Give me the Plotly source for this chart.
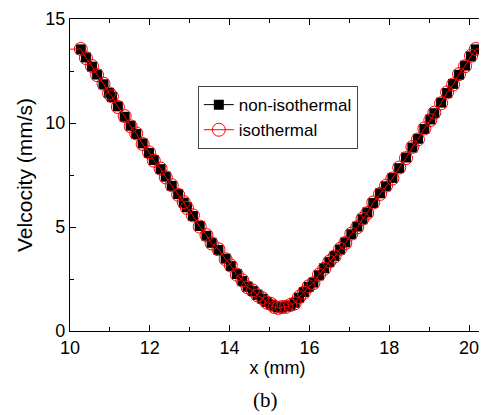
import plotly.graph_objects as go

# x positions (mm) of the sampled points
x_non = [10.27, 10.40, 10.55, 10.68, 10.84, 10.98, 11.05, 11.20, 11.37, 11.52,
         11.66, 11.82, 11.98, 12.10, 12.27, 12.40, 12.55, 12.71, 12.85, 12.93,
         13.08, 13.25, 13.42, 13.55, 13.72, 13.90, 14.03, 14.18, 14.32, 14.45,
         14.58, 14.70, 14.82, 14.93, 15.04, 15.13, 15.22, 15.31, 15.41, 15.52,
         15.63, 15.74, 15.86, 15.98, 16.10, 16.24, 16.37, 16.50, 16.63, 16.77,
         16.90, 17.05, 17.20, 17.33, 17.45, 17.60, 17.77, 17.92, 18.08, 18.25,
         18.42, 18.58, 18.72, 18.88, 19.03, 19.13, 19.30, 19.45, 19.60, 19.75,
         19.90, 20.05, 20.17]
v_non = [13.54, 13.15, 12.71, 12.33, 11.86, 11.45, 11.25, 10.80, 10.30, 9.87,
         9.47, 9.02, 8.56, 8.22, 7.78, 7.42, 6.98, 6.58, 6.17, 5.95,
         5.53, 5.05, 4.58, 4.24, 3.90, 3.48, 3.12, 2.74, 2.40, 2.13,
         1.92, 1.74, 1.55, 1.40, 1.27, 1.18, 1.13, 1.13, 1.18, 1.22,
         1.36, 1.60, 1.87, 2.12, 2.33, 2.68, 3.02, 3.31, 3.61, 3.92,
         4.26, 4.65, 5.02, 5.37, 5.70, 6.15, 6.62, 6.96, 7.36, 7.83,
         8.34, 8.82, 9.24, 9.71, 10.17, 10.47, 10.98, 11.44, 11.88, 12.32,
         12.76, 13.20, 13.54]

x_iso = [9.80, 10.27, 10.40, 10.55, 10.68, 10.84, 10.98, 11.05, 11.20, 11.37, 11.52,
         11.66, 11.82, 11.98, 12.10, 12.27, 12.40, 12.55, 12.71, 12.85, 12.93,
         13.08, 13.25, 13.42, 13.55, 13.72, 13.90, 14.03, 14.18, 14.32, 14.45,
         14.58, 14.70, 14.82, 14.93, 15.04, 15.13, 15.22, 15.31, 15.41, 15.52,
         15.63, 15.74, 15.86, 15.98, 16.10, 16.24, 16.37, 16.50, 16.63, 16.77,
         16.90, 17.05, 17.20, 17.33, 17.45, 17.60, 17.77, 17.92, 18.08, 18.25,
         18.42, 18.58, 18.72, 18.88, 19.03, 19.13, 19.30, 19.45, 19.60, 19.75,
         19.90, 20.05, 20.17, 20.60]
v_iso = [13.54, 13.56, 13.12, 12.74, 12.30, 11.89, 11.42, 11.28, 10.77, 10.33, 9.84,
         9.50, 8.99, 8.59, 8.19, 7.81, 7.39, 7.01, 6.55, 6.20, 5.92,
         5.56, 5.02, 4.61, 4.21, 3.93, 3.45, 3.15, 2.71, 2.43, 2.10,
         1.95, 1.71, 1.58, 1.37, 1.30, 1.15, 1.11, 1.15, 1.16, 1.25,
         1.33, 1.63, 1.84, 2.15, 2.30, 2.71, 2.99, 3.34, 3.58, 3.95,
         4.23, 4.68, 4.99, 5.40, 5.67, 6.18, 6.59, 6.99, 7.33, 7.86,
         8.31, 8.85, 9.21, 9.74, 10.14, 10.50, 10.95, 11.47, 11.85, 12.35,
         12.73, 13.23, 13.56, 13.56]

x_ticks = [10, 12, 14, 16, 18, 20]
y_ticks = [0, 5, 10, 15]

FONT = "Arial, Liberation Sans, sans-serif"

fig = go.Figure()
fig.add_trace(go.Scatter(
    x=x_non, y=v_non, mode="lines+markers", name="non-isothermal",
    line=dict(color="black", width=1),
    marker=dict(symbol="square", size=10, color="black"),
))
fig.add_trace(go.Scatter(
    x=x_iso, y=v_iso, mode="lines+markers", name="isothermal",
    line=dict(color="red", width=1),
    marker=dict(symbol="circle-open", size=13, color="red", line=dict(width=1)),
))

axis_common = dict(
    showgrid=False, zeroline=False, showline=True, linecolor="black", linewidth=1.3,
    mirror="ticks", ticks="inside", ticklen=6, tickwidth=1.2, tickcolor="black",
    tickfont=dict(family=FONT, size=18, color="black"),
    ticklabeloverflow="allow",
)

fig.update_xaxes(
    range=[10, 20.4], tickvals=x_ticks,
    minor=dict(ticks="inside", ticklen=4, dtick=1, tick0=0, tickcolor="black", tickwidth=1.2),
    title=dict(text="x (mm)", font=dict(family=FONT, size=18, color="black"), standoff=2),
    **axis_common,
)
fig.update_yaxes(
    range=[0, 15], tickvals=y_ticks,
    minor=dict(ticks="inside", ticklen=4, dtick=2.5, tick0=0, tickcolor="black", tickwidth=1.2),
    title=dict(text="Velcocity (mm/s)", font=dict(family=FONT, size=21, color="black"), standoff=6),
    **axis_common,
)

fig.add_annotation(
    text="(b)", xref="paper", yref="paper", x=0.47, y=-0.22,
    xanchor="center", yanchor="middle", showarrow=False,
    font=dict(family="Times New Roman, Liberation Serif, serif", size=21, color="black"),
)

fig.update_layout(
    width=479, height=407,
    margin=dict(l=62, r=1, t=8, b=84),
    paper_bgcolor="white", plot_bgcolor="white",
    legend=dict(
        x=0.308, y=0.785, xanchor="left", yanchor="top",
        bgcolor="white", bordercolor="#444", borderwidth=1,
        font=dict(family=FONT, size=17, color="black"),
        tracegroupgap=0,
    ),
)

fig.write_html("out.html")
